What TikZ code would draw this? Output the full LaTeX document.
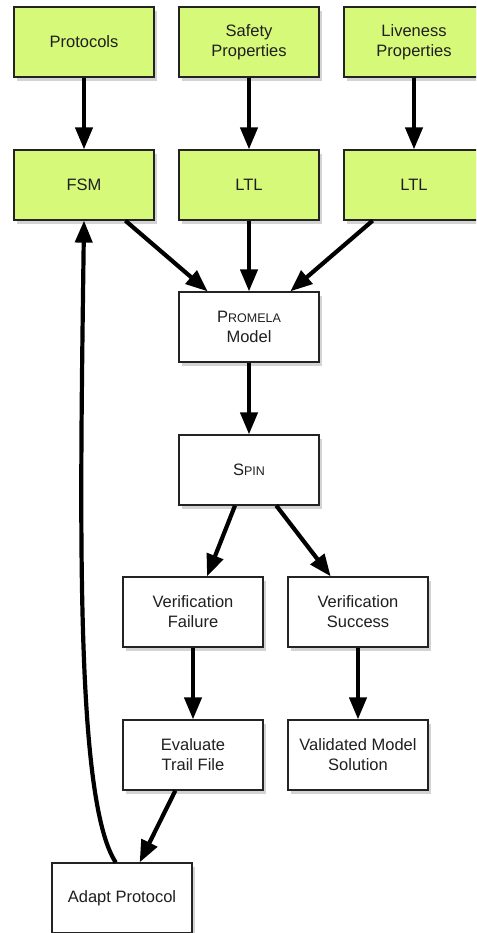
\documentclass[tikz,border=0pt]{standalone}
\usepackage{fontspec}
\setmainfont{Liberation Sans}
\usetikzlibrary{arrows.meta,shadows}
\definecolor{inputgreen}{RGB}{215,249,122}
\definecolor{boxedge}{RGB}{35,35,35}
\newcommand{\fakesc}[2]{#1{\fontsize{12.5}{14}\selectfont #2}}

\begin{document}
\begin{tikzpicture}[
  x=1pt, y=-1pt,
  stage/.style={draw=boxedge, line width=1.2pt, fill=white,
    minimum width=140pt, minimum height=70pt, inner sep=0pt,
    align=center, text=black!88, font=\fontsize{16.5}{20}\selectfont,
    drop shadow={shadow xshift=3pt, shadow yshift=-4pt, opacity=0.35}},
  source/.style={stage, fill=inputgreen},
  flow/.style={-{Triangle[length=22pt,width=17pt]}, line width=4.2pt},
]
\useasboundingbox (0,0) rectangle (476,933);
\clip (0,0) rectangle (476,933);
% inputs
\node[source] (protocols) at (84,42)  {Protocols};
\node[source] (safety)    at (249,42) {Safety\\Properties};
\node[source] (liveness)  at (414,42) {Liveness\\Properties};
% translated forms
\node[source] (fsm)     at (84,185)  {FSM};
\node[source] (ltlsafe) at (249,185) {LTL};
\node[source] (ltllive) at (414,185) {LTL};
% model checking
\node[stage] (promela) at (249,327) {\fakesc{P}{ROMELA}\\Model};
\node[stage] (spin)    at (249,470) {\fakesc{S}{PIN}};
% outcomes
\node[stage] (vfail)     at (193,612) {Verification\\Failure};
\node[stage] (vsucc)     at (358,612) {Verification\\Success};
\node[stage] (evaltrail) at (193,755) {Evaluate\\Trail File};
\node[stage] (validated) at (358,755) {Validated Model\\Solution};
\node[stage] (adapt)     at (122,898) {Adapt Protocol};
% connectors
\foreach \a/\b in {protocols/fsm, safety/ltlsafe, liveness/ltllive,
    fsm/promela, ltlsafe/promela, ltllive/promela, promela/spin,
    spin/vfail, spin/vsucc, vfail/evaltrail, vsucc/validated, evaltrail/adapt}
  \draw[flow] (\a) -- (\b);
% feedback loop back to the FSM
\draw[flow] (adapt.100) .. controls (75,800) and (80,520) .. (fsm.south);
\end{tikzpicture}
\end{document}
